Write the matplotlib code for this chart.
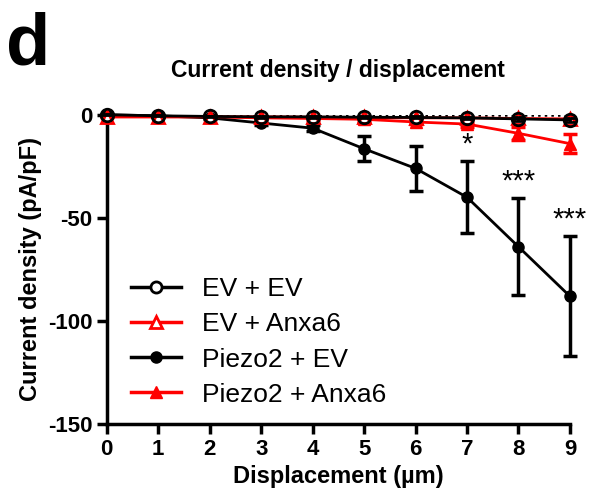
import numpy as np
import matplotlib.pyplot as plt
from matplotlib.lines import Line2D

plt.rcParams['font.family'] = ['Liberation Sans', 'DejaVu Sans']
plt.rcParams['font.weight'] = 'bold'
plt.rcParams['axes.unicode_minus'] = False

x = np.arange(10)  # displacement in um

ev_ev = [0, -0.5, -0.8, -1, -1, -1.2, -1.3, -1.5, -2, -2.5]
ev_ev_err = [0.3, 0.3, 0.4, 0.4, 0.5, 0.5, 0.5, 0.6, 0.8, 1.0]
ev_anxa6 = [-1, -1, -1, -1, -1.2, -1.3, -1.5, -1.5, -1.8, -2]
ev_anxa6_err = [0.3, 0.3, 0.3, 0.4, 0.4, 0.5, 0.5, 0.5, 0.6, 0.7]
pz_ev = [0, -0.5, -1.5, -4, -6.5, -16.5, -26, -40, -64, -88]
pz_ev_err = [0.3, 0.4, 0.6, 1, 1.5, 6, 11, 17.5, 23.5, 29]
pz_anxa6 = [-1, -1, -1, -1.5, -1.8, -2.2, -3.5, -4.5, -9, -14]
pz_anxa6_err = [0.3, 0.3, 0.4, 0.5, 0.6, 0.8, 1.2, 1.5, 3, 4.5]

stars = {7: '*', 8: '***', 9: '***'}

fig = plt.figure(figsize=(5.9, 4.99), dpi=100)
ax = fig.add_axes([0.181, 0.150, 0.785, 0.620])

ax.axhline(0, color='black', ls=':', lw=1.8, zorder=1)

ax.errorbar(x, pz_anxa6, yerr=pz_anxa6_err, color='red', marker='^', ms=8,
            lw=2, elinewidth=2.5, capsize=5, capthick=2.5, clip_on=False, zorder=3)
ax.errorbar(x, pz_ev, yerr=pz_ev_err, color='black', marker='o', ms=8,
            lw=2, elinewidth=2.5, capsize=5, capthick=2.5, clip_on=False, zorder=4)
ax.errorbar(x, ev_anxa6, yerr=ev_anxa6_err, color='red', marker='^', ms=8,
            mfc='white', mew=2, lw=2, elinewidth=2, capsize=4, clip_on=False, zorder=5)
ax.errorbar(x, ev_ev, yerr=ev_ev_err, color='black', marker='o', ms=9,
            mfc='none', mew=2, lw=2, elinewidth=2, capsize=4, clip_on=False, zorder=6)

for k, s in stars.items():
    top = pz_ev[k] + pz_ev_err[k]
    ax.text(x[k], top + 1.5, s, ha='center', va='bottom', fontsize=21,
            fontweight='normal')

ax.set_xlim(0, 9)
ax.set_ylim(-150, 0)
ax.set_xticks(x)
ax.set_yticks([0, -50, -100, -150])
ax.tick_params(width=2.5, length=7, labelsize=16, direction='out')
for s in ['top', 'right']:
    ax.spines[s].set_visible(False)
for s in ['left', 'bottom']:
    ax.spines[s].set_linewidth(2.5)

ax.set_xlabel('Displacement (µm)', fontsize=17, fontweight='bold', labelpad=4)
ax.set_ylabel('Current density (pA/pF)', fontsize=17, fontweight='bold')
ax.set_title('Current density / displacement', fontsize=16.5, fontweight='bold', pad=27)

handles = [
    Line2D([], [], color='black', marker='o', ms=8, mfc='white', mew=2, lw=2.5),
    Line2D([], [], color='red', marker='^', ms=8, mfc='white', mew=2, lw=2.5),
    Line2D([], [], color='black', marker='o', ms=8, lw=2.5),
    Line2D([], [], color='red', marker='^', ms=8, lw=2.5),
]
labels = ['EV + EV', 'EV + Anxa6', 'Piezo2 + EV', 'Piezo2 + Anxa6']
ax.legend(handles, labels, loc='lower left', bbox_to_anchor=(0.0, -0.02),
          frameon=False, handlelength=1.9, labelspacing=0.42,
          prop={'weight': 'normal', 'size': 19})

fig.text(0.01, 0.87, 'd', fontsize=52, fontweight='bold')

fig.savefig('out.png', dpi=100)
